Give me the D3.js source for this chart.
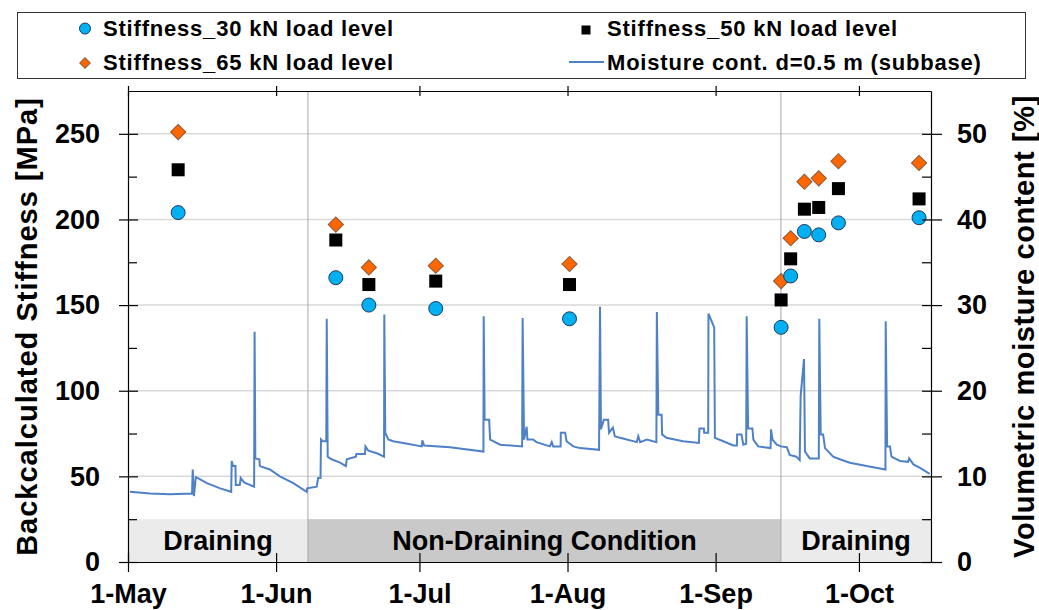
<!DOCTYPE html>
<html lang="en">
<head>
<meta charset="UTF-8">
<title>Backcalculated stiffness and moisture content</title>
<script src="https://d3js.org/d3.v7.min.js"></script>
<style>
    body { margin: 0; padding: 0; background: #fff; }
    text { font-family: "Liberation Sans", Arial, sans-serif; font-weight: bold; fill: #000; }
</style>
</head>
<body>
<script>
// FWD test dates and backcalculated stiffness [MPa]
const testDates = ['2019-05-11T12:00', '2019-06-13T12:00', '2019-06-20T10:00', '2019-07-04T10:00',
    '2019-08-01T10:00', '2019-09-14T17:00', '2019-09-16T17:00', '2019-09-19T14:00',
    '2019-09-22T14:00', '2019-09-26T17:00', '2019-10-13T14:00'];
const stiff30 = [204, 166, 150, 148, 142, 137, 167, 193, 191, 198, 201];
const stiff50 = [229, 188, 162, 164, 162, 153, 177, 206, 207, 218, 212];
const stiff65 = [251, 197, 172, 173, 174, 164, 189, 222, 224, 234, 233];

// moisture content [%], as [days after 1-May, value]
const moisture = [
    [0.4, 8.2], [4.6, 8.0], [8.8, 7.9], [13.4, 8.0], [13.55, 10.8], [13.8, 7.7], [14.2, 9.9], [14.65, 9.8],
    [16.5, 9.2], [19.3, 8.6], [21.6, 8.2], [21.7, 11.8], [22.0, 11.2], [22.5, 11.2], [22.55, 9.0], [23.4, 9.0],
    [23.6, 9.8], [24.3, 9.3], [26.4, 8.8], [26.5, 26.9], [26.65, 12.1], [27.5, 12.0], [27.6, 11.2], [29.7, 10.8],
    [31.8, 10.0], [34.6, 9.2], [37.4, 8.2], [37.5, 8.6], [39.5, 8.8], [39.8, 9.8], [40.3, 9.8], [40.4, 14.3],
    [40.75, 14.1], [41.5, 14.1], [41.6, 28.4], [41.8, 12.3], [42.6, 12.0], [44.4, 11.6], [45.6, 11.2], [45.8, 12.0],
    [47.7, 12.3], [47.8, 12.6], [49.6, 12.6], [49.7, 13.5], [50.3, 13.0], [52.1, 12.7], [53.6, 12.3], [53.65, 28.9],
    [53.85, 15.1], [54.5, 14.3], [55.5, 14.1], [57.6, 13.9], [61.5, 13.5], [61.6, 14.2], [62.0, 13.6], [67.4, 13.4],
    [74.4, 12.9], [74.45, 28.7], [74.65, 16.6], [75.6, 16.6], [75.8, 14.3], [77.9, 13.7], [82.5, 13.5], [82.6, 28.5],
    [82.9, 14.3], [83.45, 15.8], [83.6, 14.3], [84.8, 14.3], [85.5, 14.0], [88.3, 13.5], [88.7, 14.0], [89.0, 13.5],
    [90.55, 13.5], [90.6, 15.1], [91.5, 15.1], [91.8, 14.1], [93.2, 13.5], [94.6, 13.3], [98.6, 13.1], [98.8, 29.8],
    [99.0, 15.5], [99.6, 16.6], [100.5, 16.6], [100.7, 15.1], [101.5, 15.7], [101.9, 14.7], [103.0, 14.5], [104.4, 14.3],
    [106.5, 14.0], [106.8, 14.7], [107.2, 14.0], [108.6, 14.3], [110.6, 14.0], [110.7, 29.2], [111.0, 17.2], [111.7, 17.2],
    [111.8, 14.9], [112.7, 14.5], [116.2, 14.1], [119.5, 13.9], [119.6, 15.6], [120.55, 15.6], [120.6, 15.1], [121.45, 15.1],
    [121.5, 29.0], [122.7, 27.4], [122.85, 14.5], [124.6, 14.1], [126.7, 13.6], [127.45, 13.6], [127.5, 14.9], [128.4, 14.9],
    [128.8, 13.7], [129.4, 13.8], [129.5, 28.7], [129.8, 15.6], [130.7, 15.6], [130.9, 14.3], [131.9, 13.5], [134.5, 13.3],
    [134.6, 15.5], [134.9, 14.3], [135.8, 13.7], [136.7, 13.5], [137.9, 13.4], [138.5, 12.5], [139.9, 12.3], [140.6, 11.9],
    [140.8, 19.4], [141.5, 23.7], [141.7, 12.9], [142.7, 12.1], [144.6, 12.1], [144.7, 28.4], [145.0, 14.9], [145.5, 14.9],
    [145.9, 13.3], [147.6, 12.3], [149.0, 12.0], [151.1, 11.6], [154.6, 11.2], [158.55, 10.8], [158.6, 28.1], [158.9, 13.5],
    [159.5, 13.5], [159.8, 12.3], [161.6, 11.8], [163.3, 11.7], [163.5, 12.1], [164.4, 11.4], [165.8, 11.0], [167.8, 10.3]
];

// drainage condition periods
const periodStarts = ['2019-05-01T00:00', '2019-06-07T16:00', '2019-09-14T16:00'];
const periodLabels = ['Draining', 'Non-Draining Condition', 'Draining'];
const periodColors = ['#ebebeb', '#c9c9c9', '#ebebeb'];

const monthTicks = ['2019-05-01', '2019-06-01', '2019-07-01', '2019-08-01', '2019-09-01', '2019-10-01'];
const leftTicks = [0, 50, 100, 150, 200, 250];
const leftMinor = [25, 75, 125, 175, 225];
const rightTicks = [0, 10, 20, 30, 40, 50];
const rightMinor = [5, 15, 25, 35, 45];

const width = 1039, height = 610;
const margin = { left: 128, right: 108, top: 91, bottom: 48 };
const plotR = width - margin.right, plotB = height - margin.bottom;

const parse = s => new Date(s);
const start = parse('2019-05-01T00:00');
const end = parse('2019-10-16T02:00');
const dayDate = d => new Date(start.getTime() + d * 864e5);

const x = d3.scaleTime().domain([start, end]).range([margin.left, plotR]);
const yL = d3.scaleLinear().domain([0, 275]).range([plotB, margin.top]);
const yR = d3.scaleLinear().domain([0, 55]).range([plotB, margin.top]);

const svg = d3.select('body').append('svg')
    .attr('width', width)
    .attr('height', height);

// condition bands
const bandEnds = periodStarts.slice(1).map(parse).concat([end]);
const bands = svg.append('g');
periodStarts.forEach((s, i) => {
    const x0 = x(parse(s)), x1 = x(bandEnds[i]);
    bands.append('rect')
        .attr('x', x0).attr('y', yL(25))
        .attr('width', x1 - x0).attr('height', yL(0) - yL(25))
        .attr('fill', periodColors[i]);
    bands.append('text')
        .attr('x', (x0 + x1) / 2).attr('y', yL(0) - 12)
        .attr('text-anchor', 'middle')
        .style('font-size', '27px')
        .text(periodLabels[i]);
});

// gridlines
svg.append('g').selectAll('line')
    .data(leftTicks.filter(v => v > 0))
    .enter().append('line')
    .attr('x1', margin.left).attr('x2', plotR)
    .attr('y1', d => yL(d)).attr('y2', d => yL(d))
    .attr('stroke', '#d9d9d9').attr('stroke-width', 1.5);

// condition change lines
svg.append('g').selectAll('line')
    .data(periodStarts.slice(1).map(parse))
    .enter().append('line')
    .attr('x1', d => x(d)).attr('x2', d => x(d))
    .attr('y1', margin.top).attr('y2', plotB)
    .attr('stroke', '#a6a6a6').attr('stroke-width', 1);

// moisture line
const line = d3.line()
    .x(d => x(dayDate(d[0])))
    .y(d => yR(d[1]));
svg.append('path')
    .datum(moisture)
    .attr('d', line)
    .attr('fill', 'none')
    .attr('stroke', '#4f81c7')
    .attr('stroke-width', 2);

// stiffness markers
const pts = testDates.map((d, i) => ({ date: parse(d), s30: stiff30[i], s50: stiff50[i], s65: stiff65[i] }));
const diamond = d3.symbol(d3.symbolSquare, 115);
svg.append('g').selectAll('path')
    .data(pts)
    .enter().append('path')
    .attr('d', diamond)
    .attr('transform', d => `translate(${x(d.date)},${yL(d.s65)}) rotate(45)`)
    .attr('fill', '#ff6600').attr('stroke', '#8a5a3a').attr('stroke-width', 1);
svg.append('g').selectAll('rect')
    .data(pts)
    .enter().append('rect')
    .attr('x', d => x(d.date) - 6.5).attr('y', d => yL(d.s50) - 6.5)
    .attr('width', 13).attr('height', 13)
    .attr('fill', '#000');
svg.append('g').selectAll('circle')
    .data(pts)
    .enter().append('circle')
    .attr('cx', d => x(d.date)).attr('cy', d => yL(d.s30))
    .attr('r', 7)
    .attr('fill', '#00b0f0').attr('stroke', '#203864').attr('stroke-width', 1);

// axes
function styleAxis(g) {
    g.attr('font-family', null).attr('font-size', null);
    g.selectAll('text').style('font-size', '27px');
    g.selectAll('path, line').attr('stroke', '#000').attr('stroke-width', 1.2);
}

const monthDates = monthTicks.map(parse);
svg.append('g')
    .attr('transform', `translate(0,${plotB})`)
    .call(d3.axisBottom(x).tickValues(monthDates).tickFormat(d3.timeFormat('%-d-%b'))
        .tickSize(10).tickSizeOuter(0).tickPadding(12))
    .call(styleAxis)
    .call(g => g.selectAll('.tick line').attr('y1', -9));

svg.append('g')
    .attr('transform', `translate(0,${margin.top})`)
    .call(d3.axisTop(x).tickValues(monthDates).tickFormat('').tickSize(5).tickSizeOuter(0))
    .call(styleAxis)
    .call(g => g.selectAll('.tick line').attr('y1', 5));

svg.append('g')
    .attr('transform', `translate(${margin.left},0)`)
    .call(d3.axisLeft(yL).tickValues(leftTicks).tickSize(9).tickSizeOuter(0).tickPadding(19))
    .call(styleAxis)
    .call(g => g.selectAll('.tick line').attr('x1', 10));
svg.append('g')
    .attr('transform', `translate(${margin.left},0)`)
    .call(d3.axisLeft(yL).tickValues(leftMinor).tickSize(-9).tickFormat(''))
    .call(styleAxis)
    .call(g => g.select('.domain').remove());

svg.append('g')
    .attr('transform', `translate(${plotR},0)`)
    .call(d3.axisRight(yR).tickValues(rightTicks).tickSize(11).tickSizeOuter(0).tickPadding(15))
    .call(styleAxis)
    .call(g => g.selectAll('.tick line').attr('x1', -9));
svg.append('g')
    .attr('transform', `translate(${plotR},0)`)
    .call(d3.axisRight(yR).tickValues(rightMinor).tickSize(-9).tickFormat(''))
    .call(styleAxis)
    .call(g => g.select('.domain').remove());

// axis titles
svg.append('text')
    .attr('transform', `translate(37,${(margin.top + plotB) / 2}) rotate(-90)`)
    .attr('text-anchor', 'middle')
    .style('font-size', '29px')
    .style('letter-spacing', '1px')
    .text('Backcalculated Stiffness [MPa]');
svg.append('text')
    .attr('transform', `translate(1034,${(margin.top + plotB) / 2}) rotate(-90)`)
    .attr('text-anchor', 'middle')
    .style('font-size', '29px')
    .style('letter-spacing', '0.6px')
    .text('Volumetric moisture content [%]');

// legend
const legend = svg.append('g');
legend.append('rect')
    .attr('x', 17.5).attr('y', 12.5).attr('width', 1008).attr('height', 66)
    .attr('fill', '#fff').attr('stroke', '#333').attr('stroke-width', 1);
const legText = (lx, ly, t) => legend.append('text')
    .attr('x', lx).attr('y', ly)
    .style('font-size', '22px').style('letter-spacing', '0.8px')
    .text(t);
legend.append('circle').attr('cx', 85).attr('cy', 28.5).attr('r', 5.5)
    .attr('fill', '#00b0f0').attr('stroke', '#203864').attr('stroke-width', 1);
legText(103, 36, 'Stiffness_30 kN load level');
legend.append('rect').attr('x', 581.5).attr('y', 25.5).attr('width', 9).attr('height', 9).attr('fill', '#000');
legText(607, 36, 'Stiffness_50 kN load level');
legend.append('path').attr('d', d3.symbol(d3.symbolSquare, 55))
    .attr('transform', 'translate(85,63) rotate(45)')
    .attr('fill', '#ff6600').attr('stroke', '#8a5a3a').attr('stroke-width', 1);
legText(103, 70, 'Stiffness_65 kN load level');
legend.append('line').attr('x1', 569).attr('x2', 604).attr('y1', 62).attr('y2', 62)
    .attr('stroke', '#4f81c7').attr('stroke-width', 2);
legText(607, 70, 'Moisture cont. d=0.5 m (subbase)');
</script>
</body>
</html>
